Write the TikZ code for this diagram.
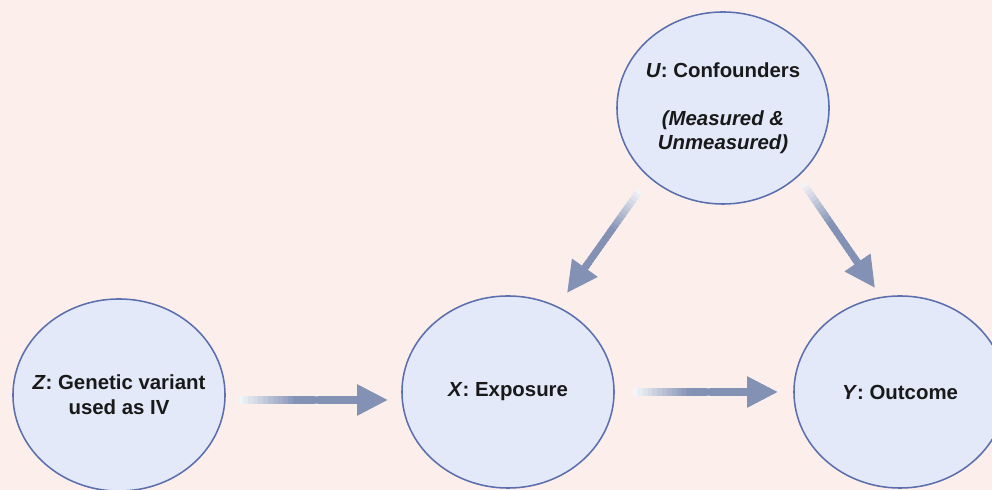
\documentclass[tikz,border=0pt]{standalone}
\usepackage{fontspec}
\setmainfont{Liberation Sans}
\usetikzlibrary{shapes.geometric,arrows.meta,calc}

\definecolor{bgpink}{HTML}{FCEEEA}
\definecolor{bubblefill}{HTML}{E3E9F9}
\definecolor{bubbleline}{HTML}{5B6FAF}
\definecolor{arrowblue}{HTML}{8391B5}

\tikzset{
  bubble/.style={ellipse,draw=bubbleline,fill=bubblefill,line width=1.1pt,
    minimum width=5.3cm,minimum height=4.8cm,inner sep=-12pt,align=center,
    font=\bfseries\fontsize{14.5}{17}\selectfont,text=black!90},
  shaft/.style={line width=5pt},
  tip/.style={-{Triangle[length=22pt,width=21pt]},line width=5pt,arrowblue},
}

% shaft fades in from white, head in full colour
\newcommand{\fadearrow}[2]{%
  \foreach \k in {0,...,23}{%
    \pgfmathsetmacro{\ta}{\k/30}%
    \pgfmathsetmacro{\tb}{(\k+1.3)/30}%
    \pgfmathtruncatemacro{\shadepc}{min(100,10+8*\k)}%
    \draw[shaft,arrowblue!\shadepc!white] ($(#1)!\ta!(#2)$) -- ($(#1)!\tb!(#2)$);
  }
  \draw[tip] ($(#1)!0.7!(#2)$) -- (#2);
}

\begin{document}
\begin{tikzpicture}[x=0.025cm,y=0.025cm]
\fill[bgpink] (0,0) rectangle (992,490);
\useasboundingbox (0,0) rectangle (992,490);

% variables
\node[bubble] (Z) at (119,95) {\textit{Z}: Genetic variant\\[1pt]used as IV};
\node[bubble] (X) at (508,98) {\textit{X}: Exposure};
\node[bubble] (Y) at (900,98) {\textit{Y}: Outcome};
\node[bubble] (U) at (723,382) {\textit{U}: Confounders\\[17pt]\textit{(Measured \&}\\\textit{Unmeasured)}};

% arrow ends
\coordinate (zx0) at (238,90);  \coordinate (zx1) at (388,90);
\coordinate (xy0) at (633,98);  \coordinate (xy1) at (778,98);
\coordinate (ux0) at (640,300); \coordinate (ux1) at (567,197);
\coordinate (uy0) at (803,307); \coordinate (uy1) at (875,202);

\fadearrow{zx0}{zx1}
\fadearrow{xy0}{xy1}
\fadearrow{ux0}{ux1}
\fadearrow{uy0}{uy1}
\end{tikzpicture}
\end{document}
